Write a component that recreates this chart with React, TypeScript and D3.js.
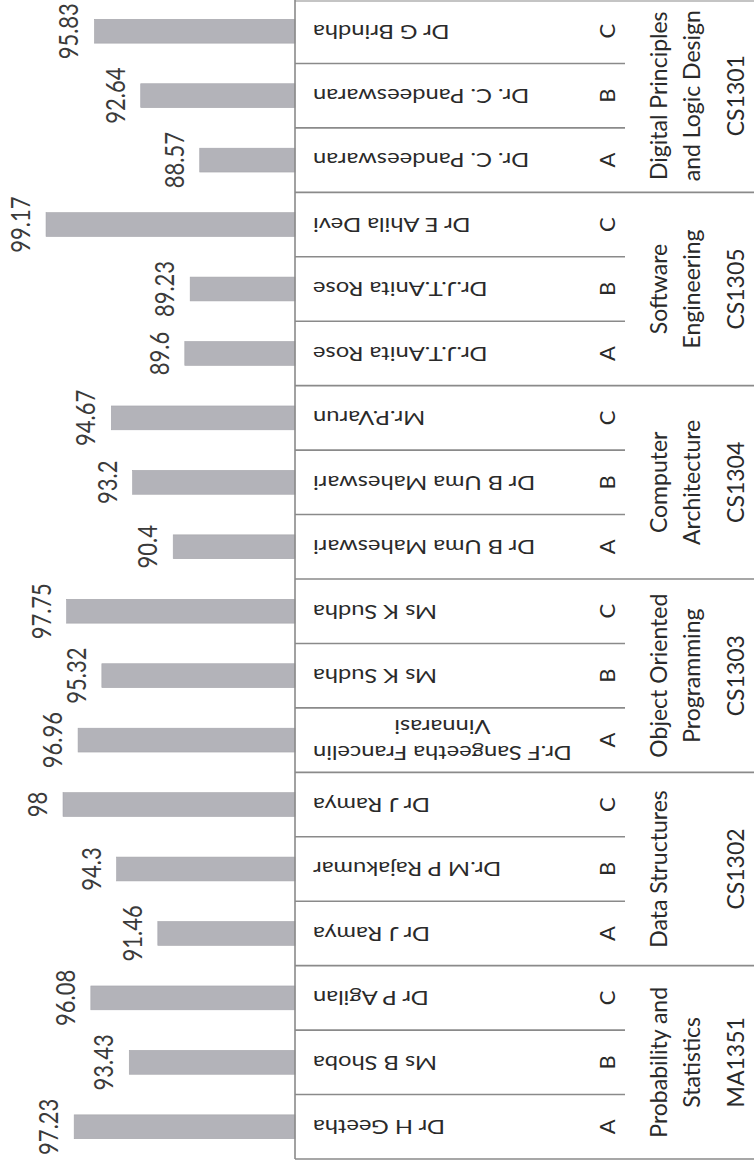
import React, { useEffect, useRef } from "react";
import * as d3 from "d3";

// Data (original chart order: bottom of picture = first)
const subjectLines: string[][] = [
  ["Probability and", "Statistics"],
  ["Data Structures"],
  ["Object Oriented", "Programming"],
  ["Computer", "Architecture"],
  ["Software", "Engineering"],
  ["Digital Principles", "and Logic Design"],
];
const codes = ["MA1351", "CS1302", "CS1303", "CS1304", "CS1305", "CS1301"];
const sectionLetters = ["A", "B", "C"];
const teachers = [
  "Dr H Geetha", "Ms B Shoba", "Dr P Agilan",
  "Dr J Ramya", "Dr.M P Rajakumar", "Dr J Ramya",
  "Dr.F Sangeetha Francelin\nVinnarasi", "Ms K Sudha", "Ms K Sudha",
  "Dr B Uma Maheswari", "Dr B Uma Maheswari", "Mr.P.Varun",
  "Dr.J.T.Anita Rose", "Dr.J.T.Anita Rose", "Dr E Ahila Devi",
  "Dr. C. Pandeeswaran", "Dr. C. Pandeeswaran", "Dr G Brindha",
];
const values = [
  97.23, 93.43, 96.08,
  91.46, 94.3, 98,
  96.96, 95.32, 97.75,
  90.4, 93.2, 94.67,
  89.6, 89.23, 99.17,
  88.57, 92.64, 95.83,
];
const valueDomain = [82, 100];

const W = 754;
const H = 1169;
const FONT = "Lato, 'Open Sans', sans-serif";

export default function App() {
  const ref = useRef<SVGSVGElement | null>(null);

  useEffect(() => {
    const svg = d3.select(ref.current);
    svg.selectAll("*").remove();

    const axisX = 295;
    const tableTop = -1;
    const tableBottom = 1159;
    const nameX = 313;
    const letterX = 615;
    const rowLineEnd = 625;
    const subjX = [667, 700];
    const codeX = 744;
    const sx = 1.25; // horizontal stretch of the scanned page

    const ids = values.map((_, i) => String(i));
    const y = d3.scaleBand<string>().domain(ids).range([tableBottom, tableTop]);
    const bw = y.bandwidth();
    const x = d3.scaleLinear().domain(valueDomain).range([axisX, 34]);

    const secIds = codes.map((_, i) => String(i));
    const ys = d3.scaleBand<string>().domain(secIds).range([tableBottom, tableTop]);

    svg.append("rect").attr("width", W).attr("height", H).attr("fill", "#ffffff");

    // bars
    const barH = bw * 0.37;
    svg
      .append("g")
      .selectAll("rect")
      .data(values)
      .join("rect")
      .attr("x", (d) => x(d))
      .attr("y", (_, i) => (y(String(i)) as number) + bw / 2 - barH / 2)
      .attr("width", (d) => axisX - x(d))
      .attr("height", barH)
      .attr("fill", "#b3b3b9")
      .attr("stroke", "#a5a5ab")
      .attr("stroke-width", 0.6);

    // value labels
    svg
      .append("g")
      .selectAll("text")
      .data(values)
      .join("text")
      .attr(
        "transform",
        (d, i) =>
          `translate(${x(d) - 16},${(y(String(i)) as number) + bw / 2}) scale(${sx},1) rotate(-90)`
      )
      .attr("text-anchor", "middle")
      .attr("font-family", FONT)
      .attr("font-size", 22)
      .attr("fill", "#3a3a3a")
      .text((d) => String(d));

    const lineColor = "#8a8a8a";
    const lines = svg.append("g").attr("stroke", lineColor).attr("stroke-width", 1.6);

    // row lines (within sections)
    ids.forEach((id, i) => {
      if (i % 3 === 0) return;
      const yy = (y(id) as number) + bw;
      lines.append("line").attr("x1", axisX).attr("x2", rowLineEnd).attr("y1", yy).attr("y2", yy);
    });
    // section lines
    secIds.forEach((id) => {
      const yy = (ys(id) as number) + ys.bandwidth();
      lines.append("line").attr("x1", axisX).attr("x2", W).attr("y1", yy).attr("y2", yy);
    });
    lines.append("line").attr("x1", axisX).attr("x2", W).attr("y1", 1).attr("y2", 1).attr("stroke", "#b0b0b0");
    // axis / table left border
    lines.append("line").attr("x1", axisX).attr("x2", axisX).attr("y1", 0).attr("y2", tableBottom);

    // teacher names (upside down)
    const ng = svg.append("g");
    teachers.forEach((t, i) => {
      const cy = (y(String(i)) as number) + bw / 2;
      const parts = t.split("\n");
      const g = ng
        .append("g")
        .attr("transform", `translate(${nameX},${cy}) scale(${sx},1) rotate(180)`);
      const lh = 26;
      const off = ((parts.length - 1) * lh) / 2;
      const t1 = g
        .append("text")
        .attr("text-anchor", "end")
        .attr("font-family", FONT)
        .attr("font-size", 19)
        .attr("fill", "#2a2a2a")
        .attr("y", -off)
        .attr("dy", "0.35em")
        .text(parts[0]);
      if (parts.length > 1) {
        const L = (t1.node() as SVGTextElement).getComputedTextLength();
        parts.slice(1).forEach((p, k) => {
          g.append("text")
            .attr("text-anchor", "middle")
            .attr("font-family", FONT)
            .attr("font-size", 19)
            .attr("fill", "#2a2a2a")
            .attr("x", -L / 2)
            .attr("y", -off + (k + 1) * lh)
            .attr("dy", "0.35em")
            .text(p);
        });
      }
    });

    // section letters
    svg
      .append("g")
      .selectAll("text")
      .data(ids)
      .join("text")
      .attr(
        "transform",
        (id) => `translate(${letterX},${(y(id) as number) + bw / 2}) rotate(-90)`
      )
      .attr("text-anchor", "middle")
      .attr("font-family", FONT)
      .attr("font-size", 22)
      .attr("fill", "#2a2a2a")
      .text((_, i) => sectionLetters[i % 3]);

    // subjects and codes
    const sg = svg.append("g");
    secIds.forEach((id, s) => {
      const cy = (ys(id) as number) + ys.bandwidth() / 2;
      subjectLines[s].forEach((ln, k) => {
        sg.append("text")
          .attr("transform", `translate(${subjX[k]},${cy}) rotate(-90)`)
          .attr("text-anchor", "middle")
          .attr("font-family", FONT)
          .attr("font-size", 23)
          .attr("fill", "#2a2a2a")
          .text(ln);
      });
      sg.append("text")
        .attr("transform", `translate(${codeX},${cy}) rotate(-90)`)
        .attr("text-anchor", "middle")
        .attr("font-family", FONT)
        .attr("font-size", 23)
        .attr("fill", "#2a2a2a")
        .text(codes[s]);
    });
  }, []);

  return (
    <svg
      ref={ref}
      width={W}
      height={H}
      style={{ position: "absolute", left: 0, top: 0, display: "block" }}
    />
  );
}
